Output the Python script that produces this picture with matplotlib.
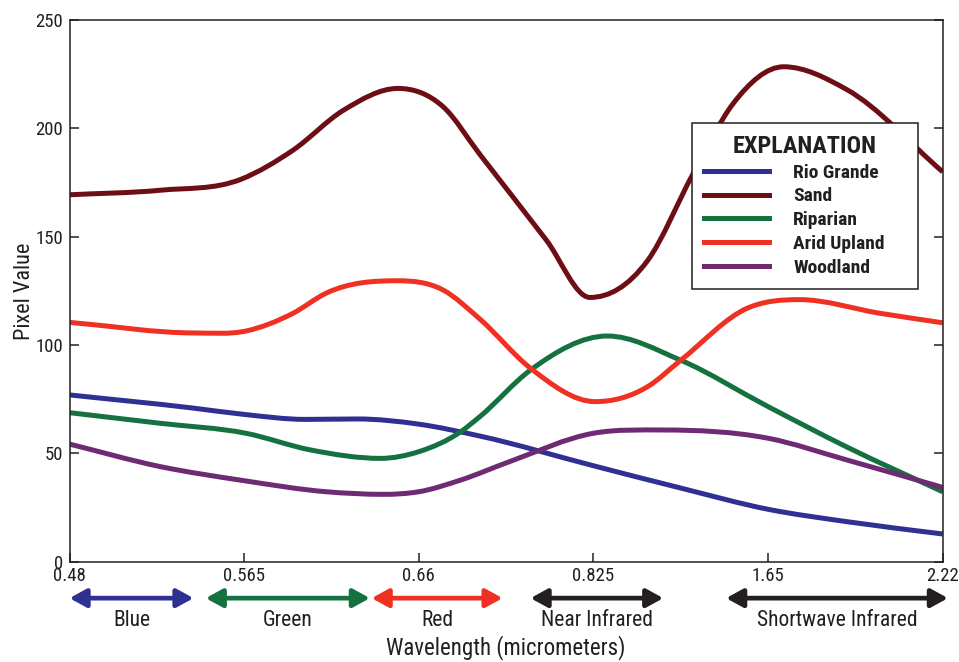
import numpy as np
import matplotlib
matplotlib.use("Agg")
import matplotlib.pyplot as plt
from matplotlib.path import Path
from matplotlib.patches import PathPatch
from matplotlib.lines import Line2D

plt.rcParams['font.family'] = ['Roboto Condensed', 'Archivo Narrow', 'Liberation Sans', 'DejaVu Sans']

# wavelength ticks (equally spaced on the chart)
wavelengths = ["0.48", "0.565", "0.66", "0.825", "1.65", "2.22"]

# curves: position along tick index, pixel value
rio_x = [0, 0.7, 1.0, 1.35, 1.65, 2.0, 2.35, 3.0, 3.5, 4.0, 4.45, 5.0]
rio_y = [77, 71, 68, 65.7, 65.9, 63.5, 58, 44.3, 34, 24.2, 18.5, 12.8]

sand_x = [0, 0.52, 0.98, 1.28, 1.57, 1.88, 2.14, 2.35, 2.73, 2.98, 3.31, 3.57, 3.8, 4.09, 4.45, 5.0]
sand_y = [169.4, 171.5, 176.5, 190, 208.5, 218.5, 210, 188, 148.5, 122, 139, 179, 211.5, 228.5, 218, 180]

rip_x = [0, 0.52, 1.01, 1.38, 1.78, 2.0, 2.24, 2.35, 2.64, 3.08, 3.5, 4.0, 4.45, 5.0]
rip_y = [68.8, 63.9, 59.3, 51.6, 47.7, 50.8, 60, 67, 88.5, 104.2, 93, 71.6, 53, 32.3]

arid_x = [0, 0.72, 1.01, 1.28, 1.47, 1.88, 2.14, 2.35, 2.64, 3.01, 3.31, 3.5, 3.88, 4.18, 4.64, 5.0]
arid_y = [110.5, 105.6, 106.5, 114.7, 124, 129.7, 125.4, 112, 89.3, 73.9, 80.8, 93, 117, 121, 114.7, 110.3]

wood_x = [0, 0.52, 1.0, 1.47, 1.8, 2.0, 2.24, 2.52, 3.0, 3.4, 4.0, 4.45, 5.0]
wood_y = [54.3, 43.9, 37.4, 32.3, 31.1, 32.3, 37.7, 46.2, 59.3, 60.8, 57, 47, 34.3]

names = ["Rio Grande", "Sand", "Riparian", "Arid Upland", "Woodland"]
colors = ["#2e3192", "#6d0e15", "#15713f", "#ef3124", "#6e2a73"]
series = [(rio_x, rio_y), (sand_x, sand_y), (rip_x, rip_y), (arid_x, arid_y), (wood_x, wood_y)]

# spectral bands under the axis (start, end in tick index)
bands = ["Blue", "Green", "Red", "Near Infrared", "Shortwave Infrared"]
band_start = [0.0, 0.78, 1.73, 2.64, 3.76]
band_end = [0.71, 1.72, 2.48, 3.4, 5.03]
band_colors = ["#2e3192", "#15713f", "#ef3124", "#231f20", "#231f20"]

ink = '#231f20'


def smooth_path(xs, ys):
    xs = np.asarray(xs, float)
    ys = np.asarray(ys, float)
    h = np.diff(xs)
    d = np.diff(ys) / h
    m = np.zeros(len(xs))
    m[0] = d[0]
    m[-1] = d[-1]
    for k in range(1, len(xs) - 1):
        if d[k - 1] * d[k] <= 0:
            m[k] = 0
        else:
            m[k] = (h[k] * d[k - 1] + h[k - 1] * d[k]) / (h[k - 1] + h[k])
    verts = [(xs[0], ys[0])]
    codes = [Path.MOVETO]
    for k in range(len(xs) - 1):
        verts += [(xs[k] + h[k] / 3, ys[k] + m[k] * h[k] / 3),
                  (xs[k + 1] - h[k] / 3, ys[k + 1] - m[k + 1] * h[k] / 3),
                  (xs[k + 1], ys[k + 1])]
        codes += [Path.CURVE4] * 3
    return Path(verts, codes)


fig = plt.figure(figsize=(9.59, 6.62), dpi=100)
ax = fig.add_axes([0.0725, 0.1515, 0.9105, 0.818])

for (xs, ys), c in zip(series, colors):
    ax.add_patch(PathPatch(smooth_path(xs, ys), facecolor='none', edgecolor=c,
                           lw=3.6, capstyle='butt'))

ax.set_xlim(0, 5)
ax.set_ylim(0, 250)
ax.set_xticks(range(len(wavelengths)))
ax.set_xticklabels(wavelengths)
ax.set_yticks(range(0, 251, 50))
ax.tick_params(axis='both', direction='in', length=6.5, width=1.1, colors=ink,
               labelsize=13.5)
ax.tick_params(axis='y', right=True, pad=4.5)
ax.tick_params(axis='x', pad=4)
for s in ax.spines.values():
    s.set_color(ink)
    s.set_linewidth(1.1)

ax.set_ylabel("Pixel Value", fontsize=16, color=ink)
ax.yaxis.set_label_coords(-0.039, 0.5)

# band arrows and names
for name, x0, x1, c in zip(bands, band_start, band_end, band_colors):
    ax.annotate("", xy=(x1, -0.0673), xytext=(x0, -0.0673),
                xycoords=('data', 'axes fraction'), textcoords=('data', 'axes fraction'),
                arrowprops=dict(arrowstyle='<|-|>,head_length=1.0,head_width=0.55',
                                color=c, lw=3.4, shrinkA=0, shrinkB=0),
                annotation_clip=False)
    ax.text((x0 + x1) / 2, -0.119, name, transform=ax.get_xaxis_transform(),
            ha='center', va='baseline', fontsize=15.5, color=ink)

ax.text(0.5, -0.1705, "Wavelength (micrometers)", transform=ax.transAxes,
        ha='center', va='baseline', fontsize=16.5, color=ink)

handles = [Line2D([], [], color=c, lw=3.6) for c in colors]
leg = ax.legend(handles, names, title="EXPLANATION", loc='upper left',
                bbox_to_anchor=(0.713, 0.81, 0.2588, 0), mode='expand',
                frameon=True, fancybox=False,
                edgecolor=ink, prop={'weight': 'bold', 'size': 14},
                title_fontproperties={'weight': 'bold', 'size': 17.5},
                handlelength=3.35, handletextpad=1.25, labelspacing=0.3,
                borderpad=0.6, borderaxespad=0)
leg.get_frame().set_linewidth(1.1)
leg.get_frame().set_alpha(1)
for t in leg.get_texts():
    t.set_color(ink)
leg.get_title().set_color(ink)

fig.savefig("out.png", dpi=100)
